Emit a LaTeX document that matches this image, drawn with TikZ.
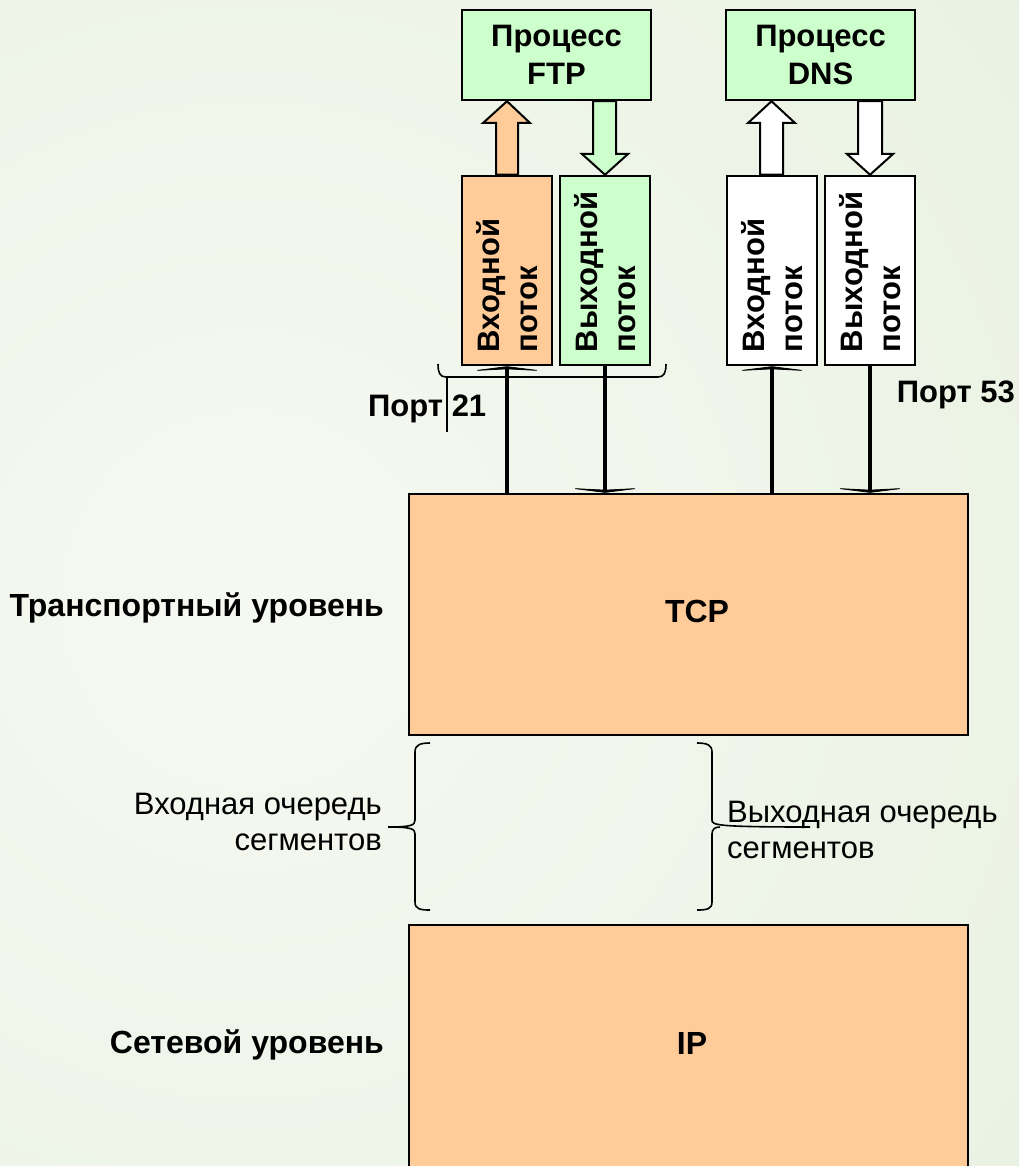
\documentclass[tikz,border=0pt]{standalone}
\usepackage{fontspec}
\setmainfont{Liberation Sans}
\usetikzlibrary{arrows.meta}
\definecolor{orng}{RGB}{255,204,153}
\definecolor{lgreen}{RGB}{204,255,204}
\definecolor{bglight}{RGB}{246,249,242}
\definecolor{bgdark}{RGB}{220,235,210}
\begin{document}
\begin{tikzpicture}[x=1pt,y=-1pt,
  box/.style={draw=black,line width=2.5pt,inner sep=0pt},
  procbox/.style={box,fill=lgreen,minimum width=189pt,minimum height=90pt,align=center,
    font=\fontsize{31}{38}\selectfont\bfseries},
  streambox/.style={box,minimum width=90pt,minimum height=189pt},
  streamtext/.style={rotate=90,align=left,text width=163pt,inner sep=0pt,
    font=\fontsize{31}{38}\selectfont\bfseries},
  layerbox/.style={box,fill=orng},
  bold/.style={font=\fontsize{32}{38}\selectfont\bfseries,inner sep=0pt},
  portlbl/.style={font=\fontsize{31}{37}\selectfont\bfseries,inner sep=0pt},
  plain/.style={font=\fontsize{31}{36}\selectfont,inner sep=0pt},
  blockarrow/.style={draw=black,line width=2pt,line join=miter},
  conn/.style={line width=4pt},
  flat/.style={-{Stealth[length=5pt,width=80pt,inset=2pt]}},
  brace/.style={line width=1.6pt}
]
\useasboundingbox (0,0) rectangle (1019,1166);
\begin{scope}
\clip (0,0) rectangle (1019,1166);
\shade[inner color=bglight,outer color=bgdark] (250,600) circle (2000);
\end{scope}

% process boxes
\node[procbox] (ftp) at (556.5,55) {Процесс\\FTP};
\node[procbox] (dns) at (820.5,55) {Процесс\\DNS};

% stream boxes
\node[streambox,fill=orng] (fin) at (507,270.5) {};
\node[streambox,fill=lgreen] (fout) at (605,270.5) {};
\node[streambox,fill=white] (din) at (772,270.5) {};
\node[streambox,fill=white] (dout) at (870,270.5) {};
\node[streamtext] at (fin.center) {Входной\\поток};
\node[streamtext] at (fout.center) {Выходной\\поток};
\node[streamtext] at (din.center) {Входной\\поток};
\node[streamtext] at (dout.center) {Выходной\\поток};

% block arrows
\draw[blockarrow,fill=orng] (fin.north -| 496,0) -- (496,123) -- (483,123) -- (ftp.south -| 507,0) -- (530,123) -- (518,123) -- (fin.north -| 518,0) -- cycle;
\draw[blockarrow,fill=lgreen] (ftp.south -| 593,0) -- (593,154) -- (582,154) -- (fout.north) -- (628,154) -- (616,154) -- (ftp.south -| 616,0) -- cycle;
\draw[blockarrow,fill=white] (din.north -| 760,0) -- (760,123) -- (748,123) -- (dns.south -| 771.5,0) -- (795,123) -- (783,123) -- (din.north -| 783,0) -- cycle;
\draw[blockarrow,fill=white] (dns.south -| 858,0) -- (858,154) -- (847,154) -- (dout.north) -- (893,154) -- (882,154) -- (dns.south -| 882,0) -- cycle;

% layers
\node[layerbox,minimum width=559pt,minimum height=241pt] (tcp) at (688.5,614.5) {};
\node[bold] (tcptext) at (697,611) {TCP};
\draw[layerbox] (409,925) rectangle (968,1180);
\node[bold] (iptext) at (692,1043) {IP};

% connectors
\draw[conn,flat] (fin.south |- tcp.north) -- (fin.south);
\draw[conn,flat] (fout.south) -- (fout.south |- tcp.north);
\draw[conn,flat] (din.south |- tcp.north) -- (din.south);
\draw[conn,flat] (dout.south) -- (dout.south |- tcp.north);

% port 21 brace
\draw[brace] (438,364) .. controls (438,373) and (440,377) .. (446,377) -- (658,377) .. controls (664,377) and (666,373) .. (666,364);
\draw[brace,line width=1.2pt] (447,377) -- (447,432);
\node[portlbl,anchor=west] (p21) at (368,409) {Порт 21};
\node[portlbl,anchor=east] (p53) at (1015,395) {Порт 53};

% layer labels
\node[bold,anchor=east] (tl) at (384,608) {Транспортный уровень};
\node[bold,anchor=east] (nl) at (384,1045) {Сетевой уровень};

% segment braces
\draw[brace] (430,743) .. controls (420,743) and (415,745) .. (415,752) -- (415,820) .. controls (415,825) and (412,827) .. (388,827);
\draw[brace] (388,827) .. controls (412,827) and (415,829) .. (415,834) -- (415,902) .. controls (415,909) and (420,910) .. (430,910);
\draw[brace] (697,743) .. controls (707,743) and (712,745) .. (712,752) -- (712,820) .. controls (712,825) and (715,827) .. (810,827);
\draw[brace] (720,827) .. controls (715,827) and (712,829) .. (712,834) -- (712,902) .. controls (712,909) and (707,910) .. (697,910);

\node[plain,align=right,anchor=north east] (inq) at (382,793) {Входная очередь\\сегментов};
\node[plain,align=left,anchor=north west] (outq) at (727,801) {Выходная очередь\\сегментов};
\end{tikzpicture}
\end{document}
